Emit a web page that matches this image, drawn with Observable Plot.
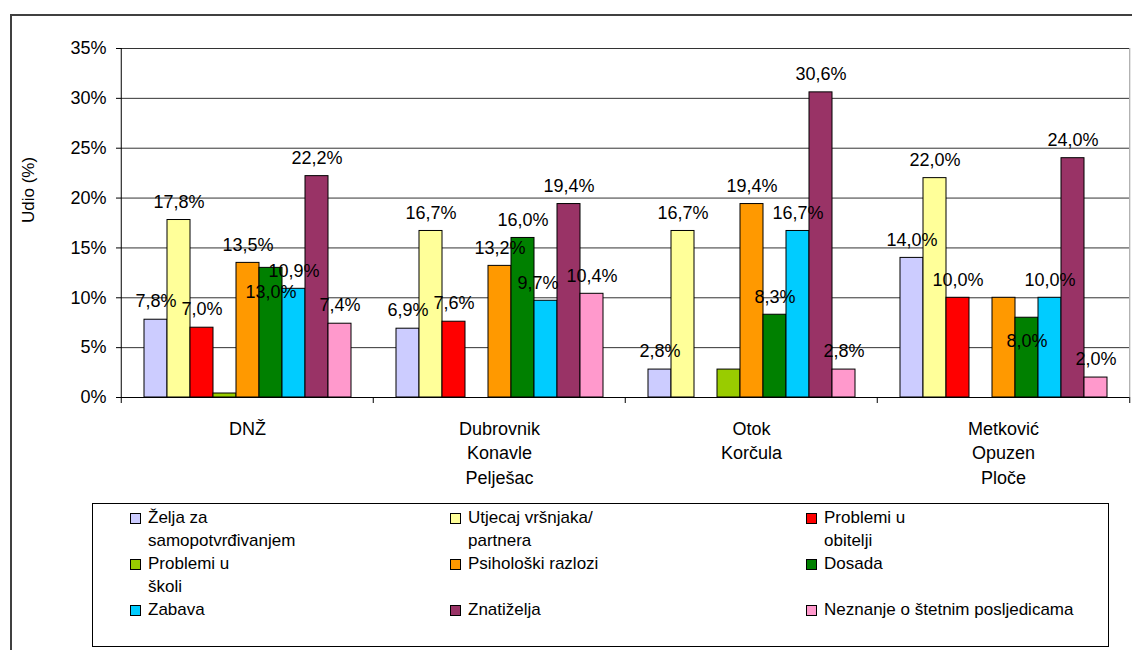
<!DOCTYPE html>
<html>
<head>
<meta charset="utf-8">
<script src="https://cdn.jsdelivr.net/npm/d3@7"></script>
<script src="https://cdn.jsdelivr.net/npm/@observablehq/plot@0.6"></script>
<style>
  html, body { margin: 0; padding: 0; background: #fff; }
  #wrap { position: relative; width: 1132px; height: 650px; overflow: hidden; font-family: "Liberation Sans", Arial, sans-serif; }
  #frame { position: absolute; left: 10px; top: 14px; width: 1200px; height: 700px; border-left: 2px solid #404040; border-top: 2px solid #404040; box-sizing: border-box; }
  #chart { position: absolute; left: 0; top: 0; }
  #legend { position: absolute; left: 92px; top: 503px; width: 1017px; height: 144px; border: 1px solid #000; box-sizing: border-box; background: #fff; }
  .item { position: absolute; font-size: 17px; line-height: 23px; white-space: pre; color: #000; }
  .sw { position: absolute; width: 9px; height: 9px; border: 1px solid #000; }
</style>
</head>
<body>
<div id="wrap">
  <div id="frame"></div>
  <div id="chart"></div>
  <div id="legend"></div>
</div>
<script>
// ---- data ----
const groups = ["DNŽ", "Dubrovnik Konavle Pelješac", "Otok Korčula", "Metković Opuzen Ploče"];
const groupLabels = ["DNŽ", "Dubrovnik\nKonavle\nPelješac", "Otok\nKorčula", "Metković\nOpuzen\nPloče"];
const series = [
  "Želja za samopotvrđivanjem",
  "Utjecaj vršnjaka/partnera",
  "Problemi u obitelji",
  "Problemi u školi",
  "Psihološki razlozi",
  "Dosada",
  "Zabava",
  "Znatiželja",
  "Neznanje o štetnim posljedicama"
];
const legendLabels = [
  "Želja za\nsamopotvrđivanjem",
  "Utjecaj vršnjaka/\npartnera",
  "Problemi u\nobitelji",
  "Problemi u\nškoli",
  "Psihološki razlozi",
  "Dosada",
  "Zabava",
  "Znatiželja",
  "Neznanje o štetnim posljedicama"
];
const colors = ["#CCCCFF", "#FFFF99", "#FF0000", "#99CC00", "#FF9900", "#008000", "#00CCFF", "#993366", "#FF99CC"];
const dnz       = [7.8, 17.8, 7.0, 0.4, 13.5, 13.0, 10.9, 22.2, 7.4];
const dubrovnik = [6.9, 16.7, 7.6, 0.0, 13.2, 16.0, 9.7, 19.4, 10.4];
const korcula   = [2.8, 16.7, 0.0, 2.8, 19.4, 8.3, 16.7, 30.6, 2.8];
const metkovic  = [14.0, 22.0, 10.0, 0.0, 10.0, 8.0, 10.0, 24.0, 2.0];
const yTicks = [0, 5, 10, 15, 20, 25, 30, 35];
const unlabeledSeries = ["Problemi u školi"];
const unlabeledPairs = [["Metković Opuzen Ploče", "Psihološki razlozi"]];

// ---- table ----
const valuesByGroup = [dnz, dubrovnik, korcula, metkovic];
const data = [];
groups.forEach((g, gi) => series.forEach((s, si) => data.push({group: g, series: s, value: valuesByGroup[gi][si]})));
const fmt = v => v.toFixed(1).replace(".", ",") + "%";
const labelData = data
  .filter(d => d.value > 0 && !unlabeledSeries.includes(d.series))
  .filter(d => !unlabeledPairs.some(([g, s]) => g === d.group && s === d.series))
  .map(d => ({...d, text: fmt(d.value)}));

const W = 1132, H = 500, ML = 120, MR = 2, MT = 48, MB = 103;
const band = (W - ML - MR) / groups.length;
const font = "'Liberation Sans', Arial, sans-serif";
const LFS = 18;

const base = {
  width: W, height: H,
  marginLeft: ML, marginRight: MR, marginTop: MT, marginBottom: MB,
  style: {fontFamily: font, background: "transparent", color: "#000", overflow: "visible"},
  fx: {domain: groups, padding: 0, label: null},
  x: {domain: series, paddingInner: 0, paddingOuter: 0.83, axis: null},
  y: {domain: [0, 35], label: null},
  color: {domain: series, range: colors}
};
const baseMarks = [
  Plot.gridY({ticks: yTicks, stroke: "#333", strokeOpacity: 1}),
  Plot.gridFx({ticks: [groups[groups.length - 1]], dx: band / 2, stroke: "#999", strokeOpacity: 1}),
  Plot.barY(data.filter(d => d.value > 0), {fx: "group", x: "series", y: "value", fill: "series", stroke: "#000", strokeWidth: 1}),
  Plot.ruleY([0], {stroke: "#000"}),
  Plot.gridFx({ticks: [groups[0]], dx: -band / 2, stroke: "#000", strokeOpacity: 1}),
  Plot.axisFx({anchor: "bottom", dx: -band / 2, tickSize: 6, tickFormat: () => "", stroke: "#000"}),
  Plot.axisFx({anchor: "bottom", ticks: [groups[groups.length - 1]], dx: band / 2, tickSize: 6, tickFormat: () => "", stroke: "#000"}),
  Plot.axisY({ticks: yTicks, tickFormat: d => d + "%", tickSize: 5, tickPadding: 10, fontSize: 18, label: null}),
  Plot.text(groups, {fx: d => d, text: d => groupLabels[groups.indexOf(d)], frameAnchor: "bottom", lineAnchor: "top", dy: 20, lineHeight: 1.36, fontSize: 18, fill: "#000"}),
  Plot.text([groups[0]], {fx: d => d, text: () => "Udio (%)", frameAnchor: "left", rotate: -90, dx: -93, fontSize: 17, fill: "#000"})
];

// ---- label placement: avoid overlapping value labels (uses the plot's own scales) ----
const probe = Plot.plot({...base, marks: baseMarks});
const sx = probe.scale("x"), sy = probe.scale("y");
const ctx = document.createElement("canvas").getContext("2d");
ctx.font = LFS + "px " + font;
const cands = [
  {dx: 0, dy: -18}, {dx: 8, dy: -18}, {dx: -8, dy: -18},
  {dx: 0, dy: -30}, {dx: 8, dy: -30}, {dx: -8, dy: -30},
  {dx: 0, dy: 24}
];
groups.forEach(g => {
  const placed = [];
  labelData.filter(d => d.group === g)
    .sort((a, b) => b.value - a.value)
    .forEach(d => {
      const cx = sx.apply(d.series) + sx.bandwidth / 2;
      const top = sy.apply(d.value);
      const w = ctx.measureText(d.text).width;
      let k = cands.findIndex(c => !placed.some(p =>
        Math.abs(cx + c.dx - p.x) < (w + p.w) / 2 + 2 && Math.abs(top + c.dy - p.y) < 21));
      if (k < 0) k = 0;
      d.k = k;
      placed.push({x: cx + cands[k].dx, y: top + cands[k].dy, w});
    });
});
const labelMarks = cands.map((c, k) =>
  Plot.text(labelData.filter(d => d.k === k), {fx: "group", x: "series", y: "value", text: "text", dx: c.dx, dy: c.dy, fontSize: LFS, fill: "#000"}));

const chart = Plot.plot({...base, marks: [...baseMarks, ...labelMarks]});
document.getElementById("chart").appendChild(chart);

// ---- legend ----
const legend = document.getElementById("legend");
const colX = [37, 357, 713];
const rowY = [2, 48, 94];
series.forEach((s, i) => {
  const c = i % 3, r = Math.floor(i / 3);
  const sw = document.createElement("div");
  sw.className = "sw";
  sw.style.left = colX[c] + "px";
  sw.style.top = (rowY[r] + 7) + "px";
  sw.style.background = colors[i];
  legend.appendChild(sw);
  const t = document.createElement("div");
  t.className = "item";
  t.style.left = (colX[c] + 18) + "px";
  t.style.top = rowY[r] + "px";
  t.textContent = legendLabels[i];
  legend.appendChild(t);
});
</script>
</body>
</html>
